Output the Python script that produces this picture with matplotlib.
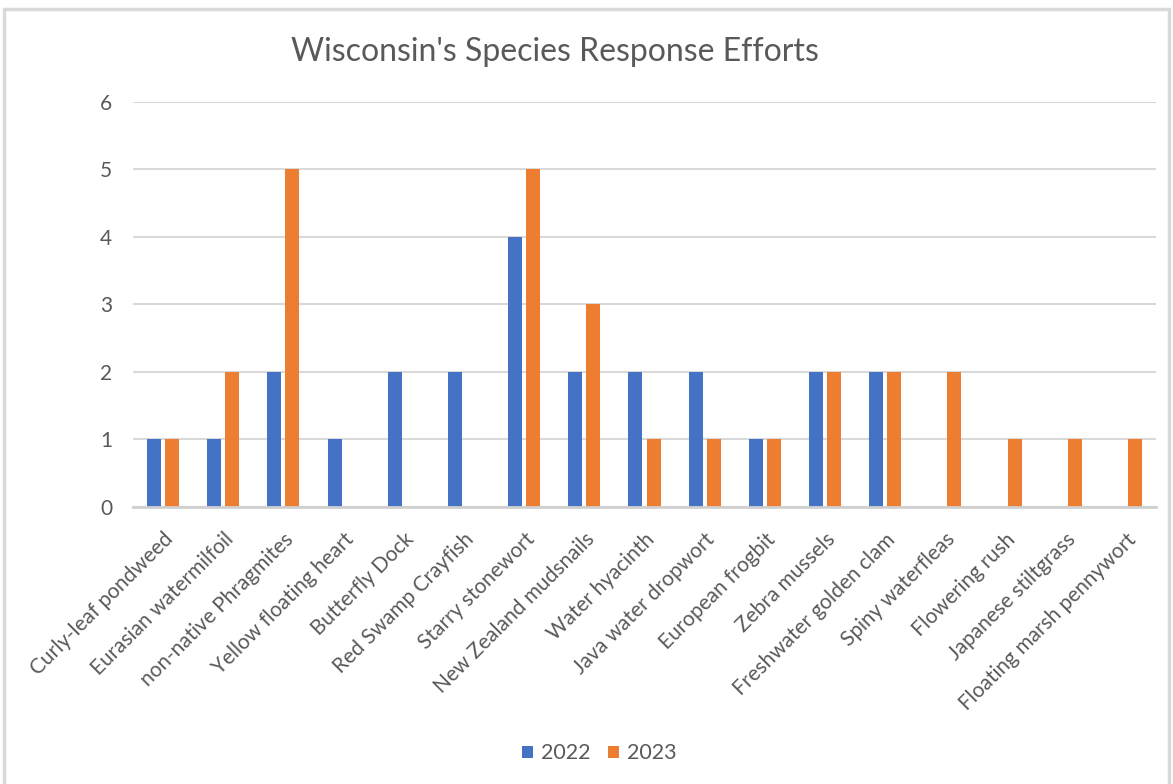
import matplotlib
matplotlib.use("Agg")
import matplotlib.pyplot as plt
import numpy as np
from matplotlib.patches import Rectangle

plt.rcParams['font.family'] = ['Lato', 'DejaVu Sans']

categories = [
    "Curly-leaf pondweed", "Eurasian watermilfoil", "non-native Phragmites",
    "Yellow floating heart", "Butterfly Dock", "Red Swamp Crayfish",
    "Starry stonewort", "New Zealand mudsnails", "Water hyacinth",
    "Java water dropwort", "European frogbit", "Zebra mussels",
    "Freshwater golden clam", "Spiny waterfleas", "Flowering rush",
    "Japanese stiltgrass", "Floating marsh pennywort",
]
values_2022 = [1, 1, 2, 1, 2, 2, 4, 2, 2, 2, 1, 2, 2, 0, 0, 0, 0]
values_2023 = [1, 2, 5, 0, 0, 0, 5, 3, 1, 1, 1, 2, 2, 2, 1, 1, 1]
series_labels = ["2022", "2023"]
y_ticks = [0, 1, 2, 3, 4, 5, 6]

blue = "#4472C4"
orange = "#ED7D31"
text_gray = "#595959"
grid_gray = "#D9D9D9"

fig = plt.figure(figsize=(11.73, 7.84), dpi=100)
fig.patch.set_facecolor("white")

# chart frame
fig.add_artist(Rectangle((0.003, -0.01), 0.994, 0.999, transform=fig.transFigure,
                         fill=False, edgecolor="#D9D9D9", linewidth=2.5))

ax = fig.add_axes([0.1134, 0.3533, 0.8721, 0.5167])

x = np.arange(len(categories))
w = 0.233
off = 0.15
ax.bar(x - off, values_2022, width=w, color=blue, label=series_labels[0], zorder=3)
ax.bar(x + off, values_2023, width=w, color=orange, label=series_labels[1], zorder=3)

ax.set_xlim(-0.5, len(categories) - 0.5)
ax.set_ylim(0, 6)
ax.set_yticks(y_ticks)
ax.set_yticklabels([str(t) for t in y_ticks])
ax.yaxis.grid(True, color=grid_gray, linewidth=1.5, zorder=0)
ax.set_axisbelow(True)

for s in ["top", "right", "left"]:
    ax.spines[s].set_visible(False)
ax.spines["bottom"].set_color("#D0D0D0")
ax.spines["bottom"].set_linewidth(2)
ax.spines["bottom"].set_zorder(4)

ax.tick_params(axis="y", length=0, pad=15, labelsize=15, labelcolor=text_gray)
ax.tick_params(axis="x", length=0, pad=16, labelsize=15, labelcolor=text_gray)
ax.set_xticks(x)
ax.set_xticklabels(categories, rotation=45, ha="right", rotation_mode="anchor")

fig.text(0.473, 0.934, "Wisconsin's Species Response Efforts", ha="center", va="center",
         fontsize=23, color=text_gray)

leg = fig.legend(loc="center", bbox_to_anchor=(0.511, 0.039), ncol=2, frameon=False,
                 fontsize=15.5, labelcolor=text_gray, handlelength=0.52, handleheight=0.52,
                 handletextpad=0.38, columnspacing=0.8)

fig.savefig("out.png", dpi=100)
